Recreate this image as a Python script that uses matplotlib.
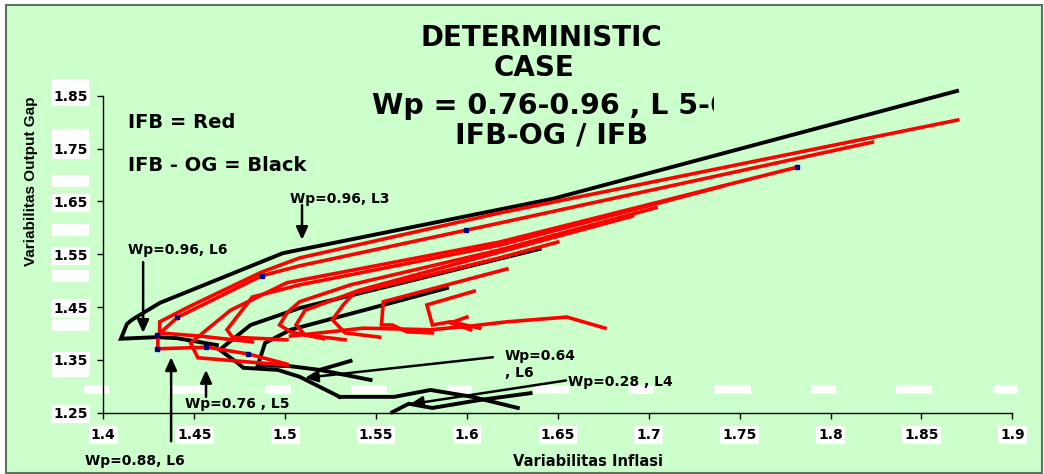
import matplotlib
matplotlib.use("Agg")
import matplotlib.pyplot as plt
import matplotlib.patches as mpatches
from matplotlib.transforms import Bbox, TransformedBbox

W, H = 1044, 474

# --- data (Variabilitas Inflasi, Variabilitas Output Gap) ---
# IFB (red)
red1_x = [1.482, 1.453, 1.431, 1.431, 1.448, 1.487, 1.508, 1.618, 1.870]
red1_y = [1.384, 1.395, 1.401, 1.422, 1.452, 1.516, 1.543, 1.628, 1.804]
red2_x = [1.501, 1.480, 1.457, 1.430, 1.430, 1.441, 1.487, 1.508, 1.618, 1.823]
red2_y = [1.342, 1.361, 1.374, 1.371, 1.397, 1.431, 1.509, 1.528, 1.609, 1.762]
red3_x = [1.501, 1.452, 1.448, 1.470, 1.501, 1.618, 1.782]
red3_y = [1.340, 1.354, 1.382, 1.444, 1.496, 1.573, 1.715]
red4_x = [1.501, 1.471, 1.468, 1.482, 1.508, 1.618, 1.741]
red4_y = [1.388, 1.393, 1.407, 1.469, 1.492, 1.567, 1.679]
red5_x = [1.521, 1.503, 1.497, 1.501, 1.508, 1.536, 1.618, 1.704]
red5_y = [1.390, 1.403, 1.416, 1.439, 1.460, 1.492, 1.558, 1.638]
red6_x = [1.533, 1.511, 1.506, 1.511, 1.541, 1.618, 1.691]
red6_y = [1.388, 1.397, 1.416, 1.444, 1.482, 1.554, 1.622]
red7_x = [1.552, 1.533, 1.526, 1.532, 1.538, 1.563, 1.618, 1.650]
red7_y = [1.393, 1.401, 1.426, 1.454, 1.477, 1.497, 1.543, 1.573]
red8_x = [1.581, 1.567, 1.559, 1.553, 1.554, 1.622]
red8_y = [1.401, 1.403, 1.416, 1.416, 1.460, 1.522]
red9_x = [1.607, 1.591, 1.581, 1.578, 1.604]
red9_y = [1.410, 1.422, 1.416, 1.454, 1.480]
red10_x = [1.676, 1.655, 1.622, 1.602, 1.580, 1.543, 1.503]
red10_y = [1.410, 1.431, 1.422, 1.414, 1.407, 1.410, 1.395]
red11_x = [1.600, 1.591, 1.602]
red11_y = [1.431, 1.420, 1.407]

# IFB - OG (black)
blk1_x = [1.4625, 1.4406, 1.4295, 1.4097, 1.413, 1.4158, 1.4312, 1.4988, 1.6474, 1.8696]
blk1_y = [1.378, 1.391, 1.393, 1.390, 1.418, 1.426, 1.458, 1.552, 1.655, 1.859]
blk2_x = [1.530, 1.508, 1.496, 1.477, 1.474, 1.464, 1.481, 1.492, 1.508, 1.640]
blk2_y = [1.280, 1.318, 1.331, 1.335, 1.344, 1.369, 1.416, 1.429, 1.448, 1.560]
blk3_x = [1.547, 1.519, 1.503, 1.485, 1.489, 1.503, 1.589]
blk3_y = [1.312, 1.331, 1.338, 1.340, 1.382, 1.407, 1.486]
blk4_x = [1.519, 1.536]
blk4_y = [1.331, 1.348]
blk5_x = [1.530, 1.560, 1.580, 1.603, 1.628]
blk5_y = [1.280, 1.280, 1.293, 1.280, 1.259]
blk6_x = [1.559, 1.568, 1.581, 1.607, 1.635]
blk6_y = [1.251, 1.267, 1.259, 1.274, 1.287]

# small navy point markers
mark_x = [1.4295, 1.4295, 1.4405, 1.4873, 1.4565, 1.4796, 1.5995, 1.7816]
mark_y = [1.397, 1.371, 1.431, 1.509, 1.374, 1.361, 1.596, 1.715]

x_ticks = [1.4, 1.45, 1.5, 1.55, 1.6, 1.65, 1.7, 1.75, 1.8, 1.85, 1.9]
x_ticklabels = ['1.4', '1.45', '1.5', '1.55', '1.6', '1.65', '1.7', '1.75', '1.8', '1.85', '1.9']
y_ticks = [1.25, 1.35, 1.45, 1.55, 1.65, 1.75, 1.85]
y_ticklabels = ['1.25', '1.35', '1.45', '1.55', '1.65', '1.75', '1.85']
ghost_y = [1.870, 1.776, 1.689, 1.596, 1.509, 1.416, 1.329]

# annotations: (text, text pos, arrow tail, arrow tip)
notes = [
    ('Wp=0.96, L3', (1.5026, 1.654), (1.5093, 1.643), (1.5093, 1.577)),
    ('Wp=0.96, L6', (1.4136, 1.558), (1.4219, 1.535), (1.4219, 1.401)),
    ('Wp=0.88, L6', (1.3899, 1.159), (1.4373, 1.196), (1.4373, 1.355)),
    ('Wp=0.76 , L5', (1.4449, 1.2665), (1.4565, 1.280), (1.4565, 1.331)),
    ('Wp=0.64\n, L6', (1.6208, 1.341), (1.6143, 1.355), (1.5109, 1.316)),
    ('Wp=0.28 , L4', (1.6555, 1.3081), (1.6545, 1.311), (1.5687, 1.266)),
]

bg = '#CCFFCC'
fig = plt.figure(figsize=(W / 100, H / 100), dpi=100)
fig.patch.set_facecolor('white')
frame = mpatches.Rectangle((6 / W, 1 - 473 / H), 1036 / W, 468 / H, transform=fig.transFigure,
                           facecolor=bg, edgecolor='#5F705F', linewidth=1.5, zorder=-1)
fig.patches.append(frame)

ax = fig.add_axes([103.3 / W, 1 - 412.7 / H, 909 / W, 317 / H])
ax.set_facecolor('none')
ax.set_xlim(1.4, 1.9)
ax.set_ylim(1.25, 1.85)
for s in ['top', 'right']:
    ax.spines[s].set_visible(False)
for s in ['left', 'bottom']:
    ax.spines[s].set_linewidth(1.0)

ax.set_xticks(x_ticks)
ax.set_xticklabels(x_ticklabels, fontsize=10, fontweight='bold')
ax.set_yticks(y_ticks)
ax.set_yticklabels(y_ticklabels, fontsize=10, fontweight='bold')
ax.tick_params(direction='out', length=4, width=1, pad=7)
for lab in ax.get_xticklabels() + ax.get_yticklabels():
    lab.set_bbox(dict(facecolor='white', edgecolor='none', pad=1.5))

# stray white label boxes
for t, lab in zip(x_ticks, x_ticklabels):
    w = 0.0138 if len(lab) == 3 else 0.020
    r = mpatches.Rectangle((t - 0.0039 - w / 2, 0.058), w, 0.028, transform=ax.get_xaxis_transform(),
                           facecolor='white', edgecolor='none', clip_on=False, zorder=0.5)
    ax.add_patch(r)
for gy in ghost_y:
    r = mpatches.Rectangle((-0.0564, gy - 0.0113), 0.0407, 0.0227, transform=ax.get_yaxis_transform(),
                           facecolor='white', edgecolor='none', clip_on=False, zorder=0.5)
    ax.add_patch(r)

reds = [(red1_x, red1_y), (red2_x, red2_y), (red3_x, red3_y), (red4_x, red4_y),
        (red5_x, red5_y), (red6_x, red6_y), (red7_x, red7_y), (red8_x, red8_y),
        (red9_x, red9_y), (red10_x, red10_y), (red11_x, red11_y)]
blacks = [(blk1_x, blk1_y), (blk2_x, blk2_y), (blk3_x, blk3_y), (blk4_x, blk4_y),
          (blk5_x, blk5_y), (blk6_x, blk6_y)]
for xs, ys in blacks:
    ax.plot(xs, ys, color='black', lw=2.8, solid_joinstyle='miter', zorder=2, clip_on=False)
for xs, ys in reds:
    ax.plot(xs, ys, color='#FF0000', lw=2.6, solid_joinstyle='miter', zorder=3, clip_on=False)
ax.plot(mark_x, mark_y, linestyle='none', marker='s', markersize=3, color='#000080', zorder=4)

for txt, tpos, tail, tip in notes:
    ax.text(tpos[0], tpos[1], txt, fontsize=10, fontweight='bold', ha='left', va='center',
            linespacing=1.25, zorder=6)
    ax.annotate('', xy=tip, xytext=tail, annotation_clip=False,
                arrowprops=dict(arrowstyle='-|>,head_length=0.55,head_width=0.25', color='black',
                                lw=1.8, mutation_scale=14, shrinkA=0, shrinkB=0), zorder=5)

# titles and legend texts
fig.text(541 / W, 1 - 38 / H, 'DETERMINISTIC', fontsize=20, fontweight='bold', ha='center', va='center')
fig.text(534 / W, 1 - 68 / H, 'CASE', fontsize=20, fontweight='bold', ha='center', va='center')
wp = fig.text(372 / W, 1 - 106 / H, 'Wp = 0.76-0.96 , L 5-6', fontsize=20.5, fontweight='bold',
              ha='left', va='center')
wp.set_clip_box(TransformedBbox(Bbox([[0, 0], [714 / W, 1]]), fig.transFigure))
wp.set_clip_on(True)
fig.text(552 / W, 1 - 135 / H, 'IFB-OG / IFB', fontsize=20.5, fontweight='bold', ha='center', va='center')
fig.text(128 / W, 1 - 122 / H, 'IFB = Red', fontsize=14, fontweight='bold', ha='left', va='center')
fig.text(128 / W, 1 - 165 / H, 'IFB - OG = Black', fontsize=14, fontweight='bold', ha='left', va='center')

fig.text(588 / W, 1 - 461 / H, 'Variabilitas Inflasi', fontsize=10.5, fontweight='bold',
         ha='center', va='center')
fig.text(31 / W, 1 - 181 / H, 'Variabilitas Output Gap', fontsize=11, fontweight='bold',
         family='Liberation Sans', rotation=90, ha='center', va='center')

fig.savefig('out.png', dpi=100, facecolor=fig.get_facecolor())
